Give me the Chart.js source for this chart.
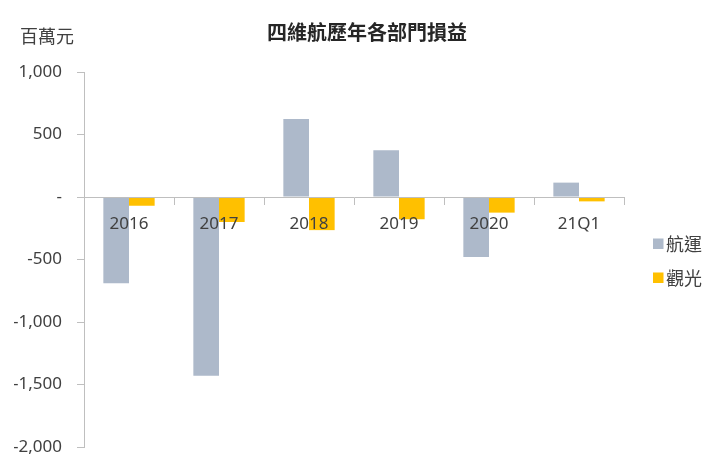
<!DOCTYPE html>
<html><head><meta charset="utf-8">
<script src="https://cdn.jsdelivr.net/npm/chart.js@4"></script>
<style>html,body{margin:0;padding:0;background:#fff}#wrap{width:720px;height:468px}</style>
</head><body><div id="wrap"><canvas id="c"></canvas></div>
<script>
const categories = ['2016','2017','2018','2019','2020','21Q1'];
const shipping = [-690, -1430, 625, 375, -480, 115];
const tourism = [-70, -200, -265, -178, -125, -35];
const seriesNames = ['航運','觀光'];
const yTicks = [1000, 500, 0, -500, -1000, -1500, -2000];
const unitLabel = '百萬元';
const titleText = '四維航歷年各部門損益';

const FONT = "'Noto Sans CJK TC','Noto Sans',sans-serif";
const NUMFONT = "'Noto Sans','Noto Sans CJK TC',sans-serif";

const extrasPlugin = {
  id: 'extras',
  afterDraw(chart){
    const ctx = chart.ctx, ca = chart.chartArea;
    ctx.save();
    ctx.font = "18px " + FONT;
    ctx.fillStyle = '#404040';
    ctx.textBaseline = 'middle';
    ctx.textAlign = 'left';
    ctx.fillText(unitLabel, 20, 36);
    const cy = (ca.top + ca.bottom) / 2;
    const x = ca.right + 29;
    chart.data.datasets.forEach((ds, i) => {
      const y = cy - 16 + i * 34;
      ctx.fillStyle = ds.backgroundColor;
      ctx.fillRect(x, y - 5, 10.5, 10.5);
      ctx.fillStyle = '#404040';
      ctx.font = "18px " + FONT;
      ctx.fillText(ds.label, x + 13, y + 1);
    });
    ctx.restore();
  }
};
new Chart(document.getElementById('c'), {
  type: 'bar',
  data: {
    labels: categories,
    datasets: [
      {label: seriesNames[0], data: shipping, backgroundColor: '#ADB9CA', barPercentage: 1, categoryPercentage: 0.57},
      {label: seriesNames[1], data: tourism, backgroundColor: '#FFC000', barPercentage: 1, categoryPercentage: 0.57}
    ]
  },
  options: {
    responsive: true, maintainAspectRatio: false, animation: false,
    layout: {padding: {left: 14, right: 0, top: 0, bottom: 21}},
    plugins: {
      title: {display: true, text: titleText, color: '#262626', font: {family: FONT, size: 20, weight: 'bold'}, padding: {top: 20, bottom: 28}},
      legend: {display: false},
      tooltip: {enabled: false}
    },
    scales: {
      x: {
        position: {y: 0},
        grid: {display: true, drawOnChartArea: false, drawTicks: true, tickLength: 7, color: '#BFBFBF', offset: true, z: 1},
        border: {display: true, color: '#BFBFBF', z: 1},
        ticks: {color: '#404040', font: {family: NUMFONT, size: 17}, padding: 10, z: 1}
      },
      y: {
        min: -2000, max: 1000,
        afterBuildTicks(scale){ scale.ticks = yTicks.map(v => ({value: v})); },
        afterFit(scale){ scale.width = 70; scale.paddingBottom = 0; },
        grid: {display: true, drawOnChartArea: false, drawTicks: true, tickLength: 7, color: '#BFBFBF'},
        border: {display: true, color: '#BFBFBF'},
        ticks: {color: '#404040', font: {family: NUMFONT, size: 17}, padding: 15,
          callback: v => v === 0 ? '-' : v.toLocaleString('en-US')}
      },
      legendSpace: {
        type: 'linear', position: 'right', display: true,
        afterFit(scale){ scale.width = 96; },
        grid: {display: false}, border: {display: false}, ticks: {display: false}
      }
    }
  },
  plugins: [extrasPlugin]
});
</script></body></html>
